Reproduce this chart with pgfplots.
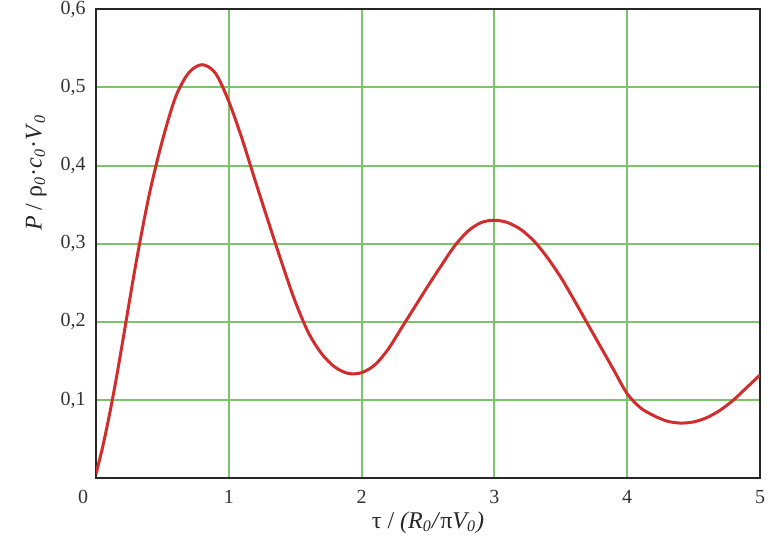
\documentclass[border=0pt]{standalone}
\usepackage{pgfplots}
\pgfplotsset{compat=1.18}
\usepackage{fontspec}
\setmainfont{Liberation Serif}

\definecolor{gridgreen}{RGB}{125,195,110}
\definecolor{curvered}{RGB}{210,45,45}

\begin{document}
\begin{tikzpicture}
\begin{axis}[
  scale only axis,
  width=332pt, height=234.5pt,
  xmin=0, xmax=5, ymin=0, ymax=0.6,
  xtick={0,1,2,3,4,5},
  xticklabels={\makebox[0pt][r]{0\hspace{4pt}},1,2,3,4,5},
  ytick={0.1,0.2,0.3,0.4,0.5,0.6},
  yticklabels={{0,1},{0,2},{0,3},{0,4},{0,5},{0,6}},
  major tick length=0pt,
  grid=major,
  major grid style={gridgreen, line width=1pt},
  axis line style={black!85, line width=0.8pt},
  tick label style={font=\fontsize{10}{12}\selectfont, text=black!80, inner sep=0.5pt},
  xticklabel style={anchor=north, yshift=-5.5pt},
  yticklabel style={anchor=east, xshift=-4.5pt},
  label style={font=\fontsize{12}{14}\selectfont, text=black!85},
  xlabel={τ / \textit{(R\textsubscript{0}/}π\textit{V\textsubscript{0})}},
  ylabel={\textit{P} / ρ\textsubscript{\textit{0}}·\textit{c}\textsubscript{\textit{0}}·\textit{V}\textsubscript{\textit{0}}},
  xlabel style={at={(axis description cs:0.5,-0.094)}, anchor=center},
  ylabel style={at={(axis description cs:-0.09,0.651)}, anchor=center},
]
\addplot[curvered, line width=1.5pt, smooth] coordinates {
(0.0,0.005) (0.05,0.040) (0.1,0.080) (0.15,0.125) (0.2,0.174)
(0.3,0.274) (0.4,0.362) (0.5,0.432) (0.6,0.488) (0.7,0.519)
(0.8,0.529) (0.9,0.518) (1.0,0.482) (1.1,0.434) (1.2,0.380)
(1.3,0.327) (1.4,0.275) (1.5,0.226) (1.6,0.186) (1.7,0.159)
(1.8,0.142) (1.9,0.134) (2.0,0.135) (2.1,0.145) (2.2,0.165)
(2.3,0.192) (2.4,0.219) (2.5,0.246) (2.6,0.272) (2.7,0.297)
(2.8,0.316) (2.9,0.327) (3.0,0.330) (3.1,0.327) (3.2,0.318)
(3.3,0.303) (3.4,0.282) (3.5,0.257) (3.6,0.228) (3.7,0.198)
(3.8,0.168) (3.9,0.138) (4.0,0.108) (4.1,0.090) (4.2,0.080)
(4.3,0.073) (4.4,0.0705) (4.5,0.072) (4.6,0.0775) (4.7,0.087)
(4.8,0.100) (4.9,0.116) (5.0,0.132)
};
\end{axis}
\path (current axis.south west) ++(-48pt,-33.6pt) coordinate (bl);
\path (current axis.north east) ++(7pt,4pt) coordinate (tr);
\path (bl) rectangle (tr);
\end{tikzpicture}
\end{document}
